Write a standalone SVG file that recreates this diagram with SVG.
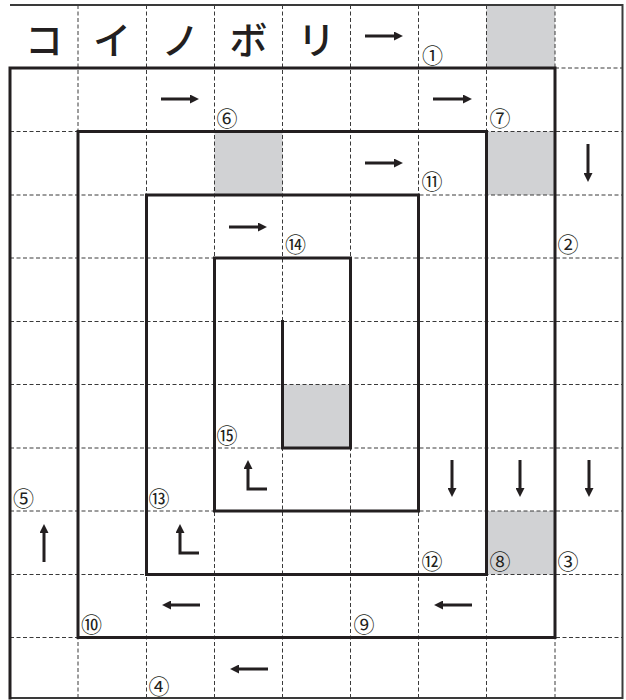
<svg xmlns="http://www.w3.org/2000/svg" width="626" height="700" viewBox="0 0 626 700">
<style>
.bg{fill:#ffffff}
.shade{fill:#d1d2d4}
.grid{stroke:#3a3a3a;stroke-width:1;stroke-dasharray:4 2.5;fill:none}
.frame{stroke:#3a3a3a;stroke-width:2;fill:none}
.wall{stroke:#231f20;stroke-width:3;fill:none;stroke-linecap:square;stroke-linejoin:miter}
.arr{stroke:#231f20;stroke-width:3;fill:none;marker-end:url(#ah)}
.kana{font-family:"Noto Sans CJK JP","Noto Sans",sans-serif;font-size:38px;font-weight:500;fill:#231f20;text-anchor:middle;dominant-baseline:central}
.num{font-family:"Noto Sans CJK JP","DejaVu Sans",sans-serif;font-size:21px;fill:#231f20;text-anchor:middle;dominant-baseline:central}
</style>
<defs>
<marker id="ah" viewBox="0 0 10 10" markerWidth="9" markerHeight="9" refX="4.5" refY="5" orient="auto" markerUnits="userSpaceOnUse">
<path d="M0,0 L10,5 L0,10 z" fill="#231f20"/>
</marker>
</defs>
<rect class="bg" x="0" y="0" width="626" height="700"/>
<g id="shaded-cells">
<rect class="shade" x="486.5" y="5" width="68.5" height="63"/>
<rect class="shade" x="214.5" y="131.5" width="68" height="63.5"/>
<rect class="shade" x="486.5" y="131.5" width="68.5" height="63.5"/>
<rect class="shade" x="282.5" y="384.5" width="68" height="63.5"/>
<rect class="shade" x="486.5" y="511" width="68.5" height="63.5"/>
</g>
<g id="grid">
<path class="grid" d="M78,5V698 M146.5,5V698 M214.5,5V698 M282.5,5V698 M350.5,5V698 M418.5,5V698 M486.5,5V698 M555,5V698"/>
<path class="grid" d="M10,131.5H622.5 M10,195H622.5 M10,258H622.5 M10,321.5H622.5 M10,384.5H622.5 M10,448H622.5 M10,511H622.5 M10,574.5H622.5 M10,637.5H622.5 M555,68H622.5"/>
</g>
<g id="frame">
<path class="frame" d="M10,5H622.5V698H10"/>
</g>
<g id="spiral">
<path class="wall" d="M10,698V68H555V637.5H78V131.5H486.5V574.5H146.5V195H418.5V511H214.5V258H350.5V448H282.5V321.5"/>
</g>
<g id="title">
<text class="kana" x="44" y="37">コ</text>
<text class="kana" x="112" y="37">イ</text>
<text class="kana" x="180.5" y="37">ノ</text>
<text class="kana" x="248.5" y="37">ボ</text>
<text class="kana" x="316.5" y="37">リ</text>
</g>
<g id="connectors">
<path class="arr" d="M365,36H398"/>
<path class="arr" d="M161,99H194"/>
<path class="arr" d="M433,99H467"/>
<path class="arr" d="M365,163H398"/>
<path class="arr" d="M229,227H262"/>
<path class="arr" d="M200,605H167"/>
<path class="arr" d="M472,605H439"/>
<path class="arr" d="M268,669H235"/>
<path class="arr" d="M588,144V177"/>
<path class="arr" d="M452,460V492"/>
<path class="arr" d="M520,460V492"/>
<path class="arr" d="M589,460V492"/>
<path class="arr" d="M44,562V529"/>
<path class="arr" d="M267,489H248V465"/>
<path class="arr" d="M199,553H180V529"/>
</g>
<g id="labels">
<text class="num" x="432.5" y="54">①</text>
<text class="num" x="568" y="243">②</text>
<text class="num" x="568" y="559.5">③</text>
<text class="num" x="159" y="685">④</text>
<text class="num" x="23.5" y="496.5">⑤</text>
<text class="num" x="227" y="116.5">⑥</text>
<text class="num" x="500" y="116.5">⑦</text>
<text class="num" x="500" y="559.5">⑧</text>
<text class="num" x="364" y="622.5">⑨</text>
<text class="num" x="91.5" y="622.5">⑩</text>
<text class="num" x="432" y="179.5">⑪</text>
<text class="num" x="432" y="559.5">⑫</text>
<text class="num" x="159" y="496.5">⑬</text>
<text class="num" x="295.5" y="243">⑭</text>
<text class="num" x="227" y="433.5">⑮</text>
</g>
</svg>
